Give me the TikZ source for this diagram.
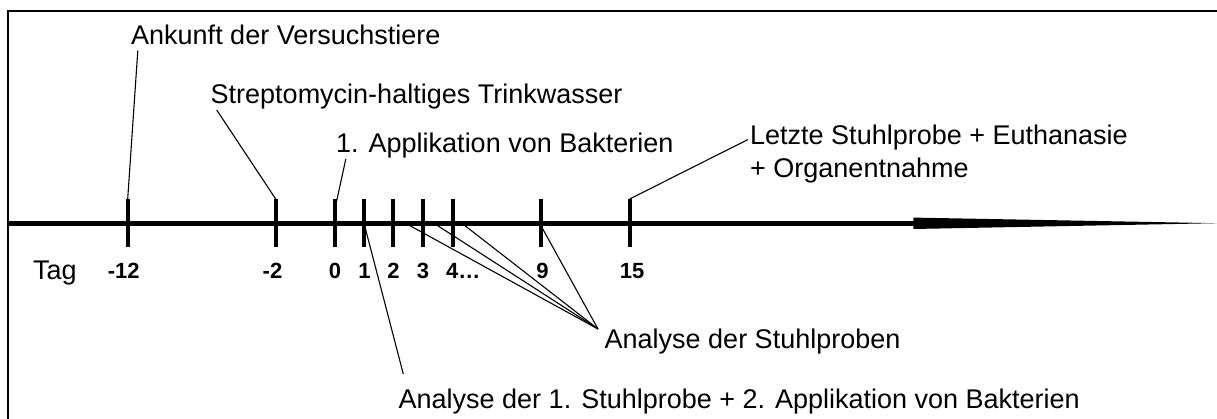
\documentclass[tikz,border=0pt]{standalone}
\usepackage{fontspec}
\setmainfont{Liberation Sans}
\begin{document}
\begin{tikzpicture}[x=1pt,y=-1pt,
  label/.style={inner sep=0pt,font=\fontsize{27}{33}\selectfont},
  daylabel/.style={inner sep=0pt,anchor=base,font=\fontsize{22}{26}\selectfont\bfseries},
  tickmark/.style={line width=4pt},
  leader/.style={line width=1.1pt},
  axisline/.style={line width=5.5pt}]
\useasboundingbox (0,0) rectangle (1217,419);

% frame (only its top and left edges lie inside the picture)
\draw[line width=2.4pt] (8.2,430) -- (8.2,11) -- (1230,11);

% time axis with a tapering arrow head
\coordinate (axstart) at (8,223.3);
\coordinate (axend) at (913.5,223.3);
\draw[axisline] (axstart) -- (axend);
\fill (913.3,217.6) -- (1216.5,223.2) -- (913.3,229) -- cycle;

% day ticks
\foreach \name/\x in {m12/127.7, m2/275.7, d0/335, d1/364, d2/393, d3/423, d4/453, d9/541.3, d15/629.7}{
  \coordinate (\name top) at (\x,199);
  \coordinate (\name bot) at (\x,247.3);
  \draw[tickmark] (\name top) -- (\name bot);
}

% day labels
\node[label,anchor=base west] (tag) at (33,279.5) {Tag};
\node[daylabel] (lm12) at (123.7,279) {-12};
\node[daylabel] (lm2) at (272.5,279) {-2};
\node[daylabel] (l0) at (335,279) {0};
\node[daylabel] (l1) at (364.5,279) {1};
\node[daylabel] (l2) at (393.5,279) {2};
\node[daylabel] (l3) at (423,279) {3};
\node[daylabel,anchor=base west] (l4) at (446,279) {4…};
\node[daylabel] (l9) at (542.5,279) {9};
\node[daylabel] (l15) at (632,279) {15};

% event labels
\node[label,anchor=base west] (ankunft) at (131,45) {Ankunft der Versuchstiere};
\node[label,anchor=base west] (strep) at (210.5,104) {Streptomycin-haltiges Trinkwasser};
\node[label,anchor=base west] (appl) at (336,153) {1. Applikation von Bakterien};
\node[label,anchor=north west,align=left] (letzte) at (750,124.4) {Letzte Stuhlprobe + Euthanasie\\[0pt]+ Organentnahme};
\node[label,anchor=base west] (stuhl) at (604.5,348) {Analyse der Stuhlproben};
\node[label,anchor=base west] (erste) at (398.5,408) {Analyse der 1. Stuhlprobe + 2. Applikation von Bakterien};

% leader ends
\coordinate (ankunftend) at (137.8,50.7);
\coordinate (strepend) at (216.7,110);
\coordinate (applend) at (345.8,159);
\coordinate (applstart) at (335.8,205);
\coordinate (letzteend) at (748,139.5);
\coordinate (stuhlend) at (598,329);
\coordinate (s2) at (406,223.5);
\coordinate (s3) at (433.5,223);
\coordinate (s4) at (461.5,223);
\coordinate (s9) at (542.5,228.5);
\coordinate (ersteend) at (403.3,374);
\coordinate (erstestart) at (365.5,229);

% leaders
\draw[leader] (m12top) -- (ankunftend);
\draw[leader] (m2top) -- (strepend);
\draw[leader] (applstart) -- (applend);
\draw[leader] (d15top) -- (letzteend);
\foreach \s in {s2,s3,s4,s9}{
  \draw[leader] (\s) -- (stuhlend);
}
\draw[leader] (erstestart) -- (ersteend);
\end{tikzpicture}
\end{document}
